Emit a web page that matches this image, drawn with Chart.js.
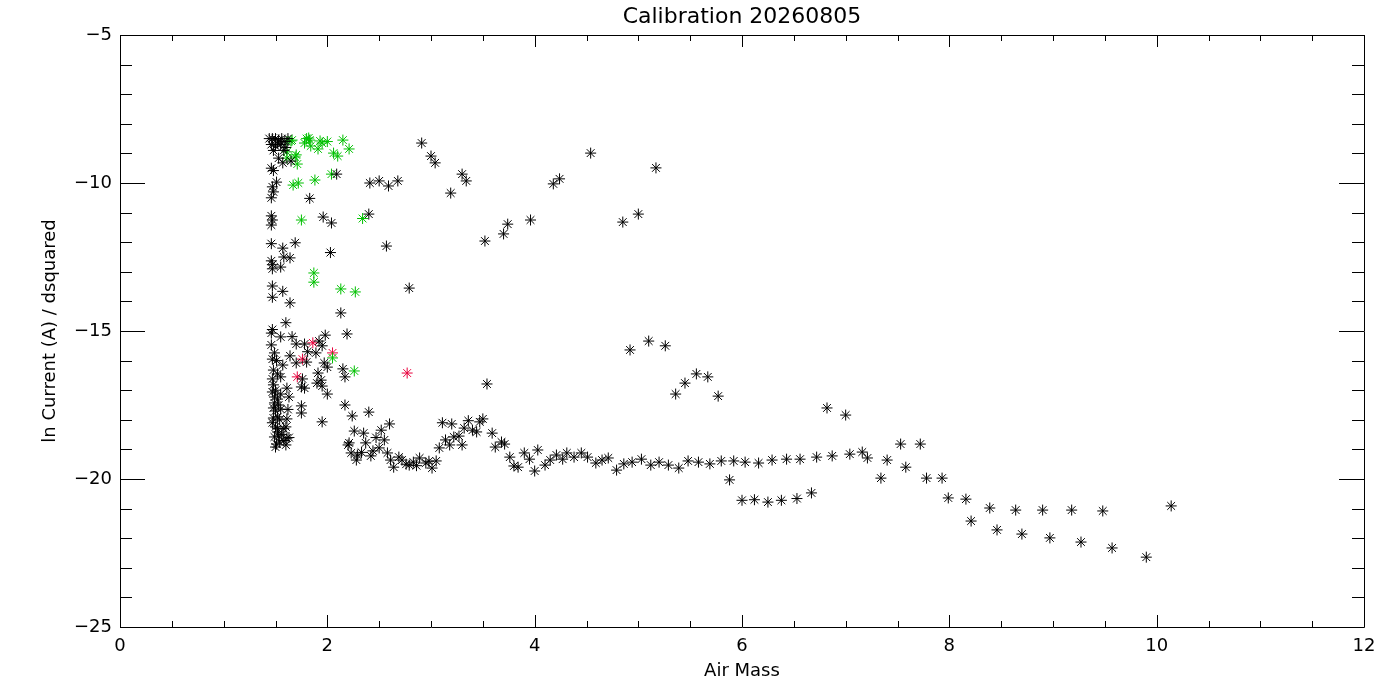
<!DOCTYPE html>
<html>
<head>
<meta charset="utf-8">
<title>Calibration 20260805</title>
<script src="https://cdn.jsdelivr.net/npm/chart.js@4"></script>
<style>
  body { margin: 0; background: #fff; }
  canvas { display: block; }
</style>
</head>
<body>
<canvas id="calChart" width="1400" height="700"></canvas>
<script>
// Air mass (x) and ln current / d^2 (y)
const blackX = [
  1.44, 1.47, 1.50, 1.53, 1.56, 1.59, 1.62, 1.46, 1.50, 1.55, 1.60, 1.48, 1.52, 1.58,
  1.53, 1.57, 1.65, 1.46, 1.48, 1.51, 1.47, 1.48, 1.46, 1.83, 2.09, 2.41,
  1.46, 1.47, 1.46, 1.96, 2.04, 2.40,
  1.46, 1.69, 1.57, 1.58, 1.64, 1.46, 1.47, 1.55, 1.47, 2.03,
  1.47, 1.57, 1.47, 1.64, 2.13,
  1.60, 1.47, 1.46, 1.55, 1.66, 1.98, 2.19,
  1.46, 1.70, 1.78, 1.92, 1.95, 1.81, 1.89, 1.64, 1.49, 1.47, 1.57, 1.70, 1.80, 1.97,
  2.00, 2.15, 2.17, 1.91, 1.94, 1.48, 1.47, 1.55, 1.76, 1.75, 1.78, 1.90, 1.95, 2.00,
  1.48, 1.47, 1.49, 1.61, 1.63, 1.55, 1.49, 1.48, 1.53, 1.55, 1.75, 1.75, 1.95, 2.17,
  2.24, 2.40, 1.48, 1.47, 1.52, 1.61, 1.50, 1.52, 1.60, 1.49, 1.53, 1.61, 1.51, 1.54,
  1.50, 1.56, 1.58, 1.51, 1.52, 1.50, 1.52, 1.50, 1.54, 1.52, 1.60, 1.63, 1.58, 1.62,
  2.26, 2.35, 2.21, 2.20, 2.37, 2.47, 2.55, 2.52, 2.60, 2.23, 2.29, 2.33, 2.42, 2.44,
  2.50, 2.58, 2.61, 2.64, 2.69, 2.72, 2.79, 2.83, 2.89, 2.95, 3.01, 3.05, 2.28, 2.76,
  2.86, 2.98,
  3.08, 3.11, 3.14, 3.18, 3.20, 3.22, 3.27, 3.30, 3.32, 3.36, 3.40, 3.44, 3.47, 3.50,
  3.54, 3.59, 3.62, 3.68, 3.71, 3.76, 3.80, 3.84, 3.90, 3.95, 4.00, 4.03, 4.10, 4.15,
  4.21, 4.27, 4.31, 4.38, 4.45, 4.51, 4.59, 4.65, 4.71, 4.79, 4.86, 4.94, 5.03, 5.12,
  5.20, 5.29, 5.39, 5.48, 5.58, 5.69, 5.80, 5.92, 6.03, 6.16, 6.29, 6.43, 6.56, 6.72,
  6.87, 7.04, 7.16, 7.21, 7.34, 7.40, 7.53, 7.58, 7.72, 7.78, 7.93, 7.99, 8.16, 5.88,
  6.67, 6.00, 6.12, 6.25, 6.38, 6.53,
  8.21, 8.39, 8.46, 8.64, 8.70, 8.90, 8.97, 9.18, 9.27, 9.48, 9.57, 9.90, 10.14,
  4.92, 5.10, 5.26, 5.36, 5.45, 5.56, 5.67, 5.77, 6.82, 7.00,
  2.91, 3.00, 3.04, 3.19, 3.30, 3.34, 3.52, 3.70, 3.74, 3.96, 4.18, 4.24, 4.54, 4.85,
  5.00, 5.17, 2.50, 2.59, 2.68, 2.57, 2.79
];
const blackY = [
  -8.50, -8.50, -8.50, -8.55, -8.50, -8.60, -8.50, -8.70, -8.75, -8.70, -8.80, -8.90, -8.65, -8.90,
  -9.16, -9.32, -9.26, -9.50, -9.58, -9.97, -10.13, -10.30, -10.50, -10.52, -9.70, -10.00,
  -11.11, -11.25, -11.42, -11.15, -11.35, -11.05,
  -12.05, -12.02, -12.20, -12.50, -12.53, -12.63, -12.76, -12.84, -12.90, -12.35,
  -13.48, -13.66, -13.86, -14.05, -14.39,
  -14.72, -14.95, -15.07, -15.20, -15.19, -15.14, -15.10,
  -15.47, -15.44, -15.44, -15.34, -15.50, -15.70, -15.74, -15.84, -15.74, -15.95, -16.15, -16.08, -16.05, -16.08,
  -16.22, -16.28, -16.55, -16.42, -16.66, -16.32, -16.62, -16.55, -16.62, -16.89, -16.93, -16.76, -16.86, -17.13,
  -16.82, -17.06, -17.23, -16.93, -17.23, -17.13, -17.43, -17.60, -17.50, -17.64, -17.53, -17.77, -18.07, -17.50,
  -17.87, -17.74, -17.94, -18.10, -17.90, -17.97, -18.24, -18.41, -18.24, -18.58, -18.55, -18.62, -18.82, -18.75,
  -18.92, -18.50, -18.70, -16.00, -16.45, -17.00, -17.30, -17.70, -18.00, -18.30, -18.85, -18.60, -18.30, -17.65,
  -18.38, -18.45, -18.78, -18.85, -18.78, -18.60, -18.68, -18.35, -18.14, -19.12, -19.19, -19.10, -19.22, -19.05,
  -18.95, -19.12, -19.36, -19.60, -19.26, -19.36, -19.53, -19.43, -19.29, -19.46, -19.63, -19.39, -19.36, -19.50,
  -19.55, -19.40,
  -18.95, -18.10, -18.68, -18.85, -18.14, -18.58, -18.55, -18.85, -18.28, -18.03, -18.35, -18.41, -18.07, -17.97,
  -16.79, -18.45, -18.92, -18.75, -18.82, -19.26, -19.56, -19.60, -19.12, -19.33, -19.73, -19.02, -19.53, -19.36,
  -19.19, -19.33, -19.12, -19.26, -19.12, -19.26, -19.46, -19.36, -19.29, -19.70, -19.49, -19.43, -19.33, -19.53,
  -19.43, -19.53, -19.63, -19.39, -19.43, -19.49, -19.39, -19.39, -19.43, -19.46, -19.36, -19.33, -19.33, -19.26,
  -19.22, -19.16, -19.09, -19.29, -19.97, -19.36, -18.82, -19.60, -18.82, -19.97, -19.97, -20.64, -20.68, -20.03,
  -20.47, -20.72, -20.70, -20.78, -20.72, -20.66,
  -21.42, -20.98, -21.72, -21.05, -21.86, -21.05, -21.99, -21.05, -22.13, -21.08, -22.33, -22.64, -20.91,
  -15.64, -15.34, -15.50, -17.13, -16.76, -16.45, -16.55, -17.20, -17.60, -17.84,
  -8.65, -9.09, -9.32, -10.34, -9.70, -9.93, -11.96, -11.72, -11.39, -11.25, -10.03, -9.86, -8.99, -11.32,
  -11.05, -9.49, -9.93, -10.10, -9.93, -12.13, -13.55
];

const greenX = [
  1.61, 1.65, 1.80, 1.82, 1.78, 1.84, 1.93, 1.95, 2.00, 2.15, 2.21, 1.91, 2.06, 2.10,
  1.61, 1.61, 1.69, 1.71, 1.70, 1.67, 1.72, 1.88, 2.04, 1.75, 2.34, 1.87, 1.87, 2.13,
  2.27, 2.05, 2.26, 1.66, 1.83
];
const greenY = [
  -8.60, -8.58, -8.50, -8.48, -8.65, -8.75, -8.58, -8.65, -8.60, -8.55, -8.85, -8.85, -8.99, -9.09,
  -8.95, -9.16, -9.12, -9.36, -9.05, -10.07, -10.00, -9.90, -9.70, -11.25, -11.20, -13.04, -13.35, -13.58,
  -13.68, -15.91, -16.35, -8.55, -8.55
];

const redX = [1.86, 1.76, 1.71, 2.05, 2.77];
const redY = [-15.40, -15.95, -16.55, -15.74, -16.42];

const xTicks = [0, 2, 4, 6, 8, 10, 12];
const yTicks = [-25, -20, -15, -10, -5];

const toPoints = (xs, ys) => xs.map((x, i) => ({ x: x, y: ys[i] }));

function starSet(label, xs, ys, color) {
  return {
    label: label,
    data: toPoints(xs, ys),
    pointStyle: "star",
    pointRadius: 5.5,
    pointHoverRadius: 5.5,
    pointBorderWidth: 1,
    borderColor: color,
    backgroundColor: color,
    showLine: false,
  };
}

const axisFont = { family: "'DejaVu Sans', sans-serif", size: 18, weight: "normal" };

// IDL-style frame: box with inward ticks on all four sides, plus the title
const frameTicks = {
  id: "frameTicks",
  afterDraw(chart) {
    const ctx = chart.ctx;
    const a = chart.chartArea;
    const xs = chart.scales.x;
    const ys = chart.scales.y;
    ctx.save();
    ctx.strokeStyle = "#000";
    ctx.lineWidth = 1;
    ctx.beginPath();
    ctx.rect(Math.round(a.left) + 0.5, Math.round(a.top) + 0.5,
      Math.round(a.right - a.left), Math.round(a.bottom - a.top));
    for (let v = 0; v <= 12; v += 0.5) {
      const px = Math.round(xs.getPixelForValue(v)) + 0.5;
      const len = v % 2 === 0 ? 12 : 6;
      ctx.moveTo(px, a.bottom);
      ctx.lineTo(px, a.bottom - len);
      ctx.moveTo(px, a.top);
      ctx.lineTo(px, a.top + len);
    }
    for (let v = -25; v <= -5; v += 1) {
      const py = Math.round(ys.getPixelForValue(v)) + 0.5;
      const len = v % 5 === 0 ? 25 : 12;
      ctx.moveTo(a.left, py);
      ctx.lineTo(a.left + len, py);
      ctx.moveTo(a.right, py);
      ctx.lineTo(a.right - len, py);
    }
    ctx.stroke();

    ctx.fillStyle = "#000";
    ctx.font = "normal 22px 'DejaVu Sans', sans-serif";
    ctx.textAlign = "center";
    ctx.textBaseline = "middle";
    ctx.fillText("Calibration 20260805", (a.left + a.right) / 2, 17);
    ctx.restore();
  },
};

const ctx = document.getElementById("calChart").getContext("2d");
new Chart(ctx, {
  type: "scatter",
  data: {
    datasets: [
      starSet("black", blackX, blackY, "#000000"),
      starSet("green", greenX, greenY, "#00c000"),
      starSet("red", redX, redY, "#e8003c"),
    ],
  },
  options: {
    responsive: false,
    animation: false,
    layout: { padding: { top: 35, right: 36, left: 0, bottom: 0 } },
    plugins: {
      legend: { display: false },
      tooltip: { enabled: false },
    },
    scales: {
      x: {
        type: "linear",
        min: 0,
        max: 12,
        afterFit: (scale) => { scale.height = 73; },
        afterBuildTicks: (scale) => { scale.ticks = xTicks.map((v) => ({ value: v })); },
        grid: { display: false, drawTicks: false },
        border: { display: false },
        ticks: { color: "#000", font: axisFont, padding: 9, maxRotation: 0 },
        title: {
          display: true,
          text: "Air Mass",
          color: "#000",
          font: axisFont,
          padding: { top: 0, bottom: 18 },
        },
      },
      y: {
        type: "linear",
        min: -25,
        max: -5,
        afterFit: (scale) => { scale.width = 120; },
        afterBuildTicks: (scale) => { scale.ticks = yTicks.map((v) => ({ value: v })); },
        grid: { display: false, drawTicks: false },
        border: { display: false },
        ticks: {
          color: "#000",
          font: axisFont,
          padding: 8,
          callback: (v) => String(v).replace("-", "\u2212"),
        },
        title: {
          display: true,
          text: "ln Current (A) / dsquared",
          color: "#000",
          font: axisFont,
          padding: { top: 40, bottom: 0 },
        },
      },
    },
  },
  plugins: [frameTicks],
});
</script>
</body>
</html>
